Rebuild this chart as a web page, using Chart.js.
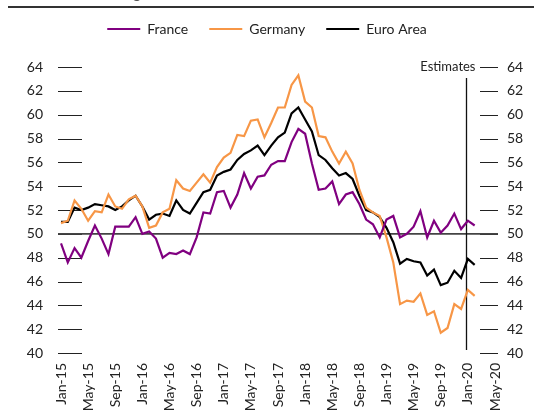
<!DOCTYPE html>
<html>
<head>
<meta charset="utf-8">
<script src="https://cdn.jsdelivr.net/npm/chart.js@4.4.0/dist/chart.umd.min.js"></script>
<style>
  html, body { margin: 0; padding: 0; background: #fff; overflow: hidden; }
  #wrap { width: 534px; height: 414px; }
</style>
</head>
<body>
<div id="wrap"><canvas id="pmiChart"></canvas></div>
<script>
// month labels, Jan-15 .. May-20
const monthNames = ["Jan", "Feb", "Mar", "Apr", "May", "Jun", "Jul", "Aug", "Sep", "Oct", "Nov", "Dec"];
const years = ["15", "16", "17", "18", "19", "20"];
const lastLabel = "May-20";
const estimateStart = "Jan-20";

const labels = [];
for (const y of years) {
  for (const m of monthNames) {
    labels.push(m + "-" + y);
    if (m + "-" + y === lastLabel) break;
  }
}

// PMI values, Jan-15 .. Feb-20
const france = [
  49.2, 47.6, 48.8, 48.0, 49.4, 50.7, 49.6, 48.3, 50.6, 50.6, 50.6, 51.4,
  50.0, 50.2, 49.6, 48.0, 48.4, 48.3, 48.6, 48.3, 49.7, 51.8, 51.7, 53.5,
  53.6, 52.2, 53.3, 55.1, 53.8, 54.8, 54.9, 55.8, 56.1, 56.1, 57.7, 58.8,
  58.4, 55.9, 53.7, 53.8, 54.4, 52.5, 53.3, 53.5, 52.5, 51.2, 50.8, 49.7,
  51.2, 51.5, 49.7, 50.0, 50.6, 51.9, 49.7, 51.1, 50.1, 50.7, 51.7, 50.4,
  51.1, 50.7
];
const germany = [
  50.9, 51.1, 52.8, 52.1, 51.1, 51.9, 51.8, 53.3, 52.3, 52.1, 52.9, 53.2,
  52.3, 50.5, 50.7, 51.8, 52.1, 54.5, 53.8, 53.6, 54.3, 55.0, 54.3, 55.6,
  56.4, 56.8, 58.3, 58.2, 59.5, 59.6, 58.1, 59.3, 60.6, 60.6, 62.5, 63.3,
  61.1, 60.6, 58.2, 58.1, 56.9, 55.9, 56.9, 55.9, 53.7, 52.2, 51.8, 51.5,
  49.7, 47.6, 44.1, 44.4, 44.3, 45.0, 43.2, 43.5, 41.7, 42.1, 44.1, 43.7,
  45.3, 44.8
];
const euroArea = [
  51.0, 51.0, 52.2, 52.0, 52.2, 52.5, 52.4, 52.3, 52.0, 52.3, 52.8, 53.2,
  52.3, 51.2, 51.6, 51.7, 51.5, 52.8, 52.0, 51.7, 52.6, 53.5, 53.7, 54.9,
  55.2, 55.4, 56.2, 56.7, 57.0, 57.4, 56.6, 57.4, 58.1, 58.5, 60.1, 60.6,
  59.6, 58.6, 56.6, 56.2, 55.5, 54.9, 55.1, 54.6, 53.2, 52.0, 51.8, 51.4,
  50.5, 49.3, 47.5, 47.9, 47.7, 47.6, 46.5, 47.0, 45.7, 45.9, 46.9, 46.3,
  47.9, 47.4
];

const yMin = 40, yMax = 64, yStep = 2, refLevel = 50;

const FONT = "Lato";
const TEXT = "#222";

// extra room under the legend
const legendGap = {
  id: "legendGap",
  beforeInit(chart) {
    const fit = chart.legend.fit;
    chart.legend.fit = function () {
      fit.bind(chart.legend)();
      this.height += 21;
    };
  }
};

// short tick marks, the 50 line, the estimates marker and the header rule
const decor = {
  id: "decor",
  beforeDraw(chart) {
    const ctx = chart.ctx;
    ctx.save();
    ctx.fillStyle = "#555";
    ctx.font = "16px " + FONT;
    ctx.textBaseline = "alphabetic";
    ctx.fillText("Manufacturing PMI", 38, -2);
    ctx.strokeStyle = "#333";
    ctx.lineWidth = 2;
    ctx.beginPath();
    ctx.moveTo(8, 7);
    ctx.lineTo(chart.width, 7);
    ctx.stroke();
    ctx.restore();
  },
  beforeDatasetsDraw(chart) {
    const ctx = chart.ctx;
    const area = chart.chartArea;
    const y = chart.scales.y;
    const x = chart.scales.x;
    ctx.save();
    ctx.strokeStyle = "#222";
    ctx.lineWidth = 1.2;
    for (let v = yMin; v <= yMax; v += yStep) {
      const py = Math.round(y.getPixelForValue(v)) + 0.5;
      ctx.beginPath();
      ctx.moveTo(area.left - 3, py);
      ctx.lineTo(area.left + 21, py);
      ctx.moveTo(area.right - 15, py);
      ctx.lineTo(area.right + 3, py);
      ctx.stroke();
    }
    // 50 line
    const p50 = y.getPixelForValue(refLevel);
    ctx.strokeStyle = "#444";
    ctx.lineWidth = 1.6;
    ctx.beginPath();
    ctx.moveTo(area.left - 3, p50);
    ctx.lineTo(area.right + 3, p50);
    ctx.stroke();
    // estimates marker
    const ex = Math.round(x.getPixelForValue(labels.indexOf(estimateStart))) - 1.5;
    ctx.strokeStyle = "#111";
    ctx.lineWidth = 1.3;
    ctx.beginPath();
    ctx.moveTo(ex, area.top + 11);
    ctx.lineTo(ex, area.bottom - 3);
    ctx.stroke();
    ctx.fillStyle = TEXT;
    ctx.font = "13px " + FONT;
    ctx.textAlign = "right";
    ctx.textBaseline = "middle";
    ctx.fillText("Estimates", ex + 9, area.top);
    ctx.restore();
  }
};

new Chart(document.getElementById("pmiChart"), {
  type: "line",
  data: {
    labels: labels,
    datasets: [
      { label: "France", data: france, borderColor: "#800080", backgroundColor: "#800080" },
      { label: "Germany", data: germany, borderColor: "#F79646", backgroundColor: "#F79646" },
      { label: "Euro Area", data: euroArea, borderColor: "#000000", backgroundColor: "#000000" }
    ]
  },
  options: {
    responsive: true,
    maintainAspectRatio: false,
    animation: false,
    devicePixelRatio: 1,
    layout: { padding: { top: 1, left: 0, right: 0, bottom: 0 } },
    elements: {
      line: { borderWidth: 2.2, tension: 0 },
      point: { radius: 0, hoverRadius: 0 }
    },
    plugins: {
      tooltip: { enabled: false },
      legend: {
        position: "top",
        labels: {
          boxWidth: 33,
          boxHeight: 2,
          padding: 21,
          color: TEXT,
          font: { family: FONT, size: 14 },
          generateLabels: chart =>
            Chart.defaults.plugins.legend.labels.generateLabels(chart)
              .map(l => ({ ...l, lineWidth: 0, strokeStyle: "rgba(0,0,0,0)" }))
        }
      }
    },
    scales: {
      x: {
        type: "category",
        offset: false,
        grid: { display: false, drawTicks: false },
        border: { display: false },
        ticks: {
          autoSkip: false,
          maxRotation: 90,
          minRotation: 90,
          padding: 10,
          color: TEXT,
          font: { family: FONT, size: 14 },
          callback: (val, i) => (i % 4 === 0 ? labels[i] : "")
        },
        afterFit: s => { s.height = 61; }
      },
      y: {
        position: "left",
        min: yMin,
        max: yMax,
        grid: { display: false, drawTicks: false },
        border: { display: false },
        ticks: {
          stepSize: yStep,
          padding: 18,
          color: TEXT,
          font: { family: FONT, size: 14 }
        },
        afterFit: s => { s.width = 61; }
      },
      y2: {
        position: "right",
        min: yMin,
        max: yMax,
        grid: { display: false, drawTicks: false },
        border: { display: false },
        ticks: {
          stepSize: yStep,
          padding: 12,
          color: TEXT,
          font: { family: FONT, size: 14 }
        },
        afterFit: s => { s.width = 39; }
      }
    }
  },
  plugins: [legendGap, decor]
});
</script>
</body>
</html>
